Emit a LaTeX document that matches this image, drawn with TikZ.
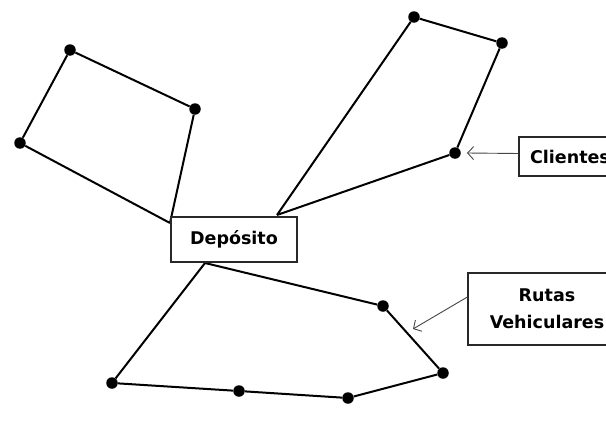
\documentclass[tikz,border=0pt]{standalone}
\usepackage{fontspec}
\setmainfont{DejaVu Sans}
\usetikzlibrary{arrows.meta}
\definecolor{caja}{RGB}{40,40,40}
\definecolor{flecha}{RGB}{70,70,70}
\tikzset{
  cliente/.style={circle, fill=black, inner sep=0pt, minimum size=11.5pt},
  ruta/.style={black, line width=2pt},
  rotulo/.style={draw=caja, line width=1.2pt, fill=white, inner sep=0pt,
    font=\fontsize{17.5}{27}\selectfont\bfseries, align=center},
  senal/.style={flecha, line width=0.9pt, -{Straight Barb[length=6pt,width=13pt]}}
}

\begin{document}
\begin{tikzpicture}[x=1pt, y=-1pt]
  \clip (0,0) rectangle (606,434);
  \useasboundingbox (0,0) rectangle (606,434);
  % clientes
  \foreach \n/\x/\y in {a1/70/50, a2/195/109, a3/20/143,
                        b1/414/17, b2/502/43, b3/455/153,
                        c1/383/306, c2/443/373, c3/348/398, c4/239/391, c5/112/383}
    \node[cliente] (\n) at (\x,\y) {};
  % salidas del deposito
  \coordinate (dA) at (170,223);
  \coordinate (dB) at (277,215);
  \coordinate (dC) at (205,263);
  % ruta 1
  \draw[ruta] (dA) -- (a3) -- (a1) -- (a2) -- (dA);
  % ruta 2
  \draw[ruta] (dB) -- (b1) -- (b2) -- (b3) -- (dB);
  % ruta 3
  \draw[ruta] (dC) -- (c1) -- (c2) -- (c3) -- (c4) -- (c5) -- (dC);
  % deposito
  \node[rotulo, minimum width=126pt, minimum height=45pt] (dep) at (234,239.5) {Depósito};
  % leyendas
  \node[rotulo, minimum width=102pt, minimum height=39pt] (cli) at (570,156.5) {Clientes};
  \node[rotulo, minimum width=158pt, minimum height=72pt] (rut) at (547,309) {Rutas\\Vehiculares};
  \coordinate (pRuta) at (413,329);
  \draw[senal] ([yshift=3pt]cli.west) -- ([xshift=12pt]b3.center);
  \draw[senal] ([yshift=12pt]rut.west) -- (pRuta);
\end{tikzpicture}
\end{document}
